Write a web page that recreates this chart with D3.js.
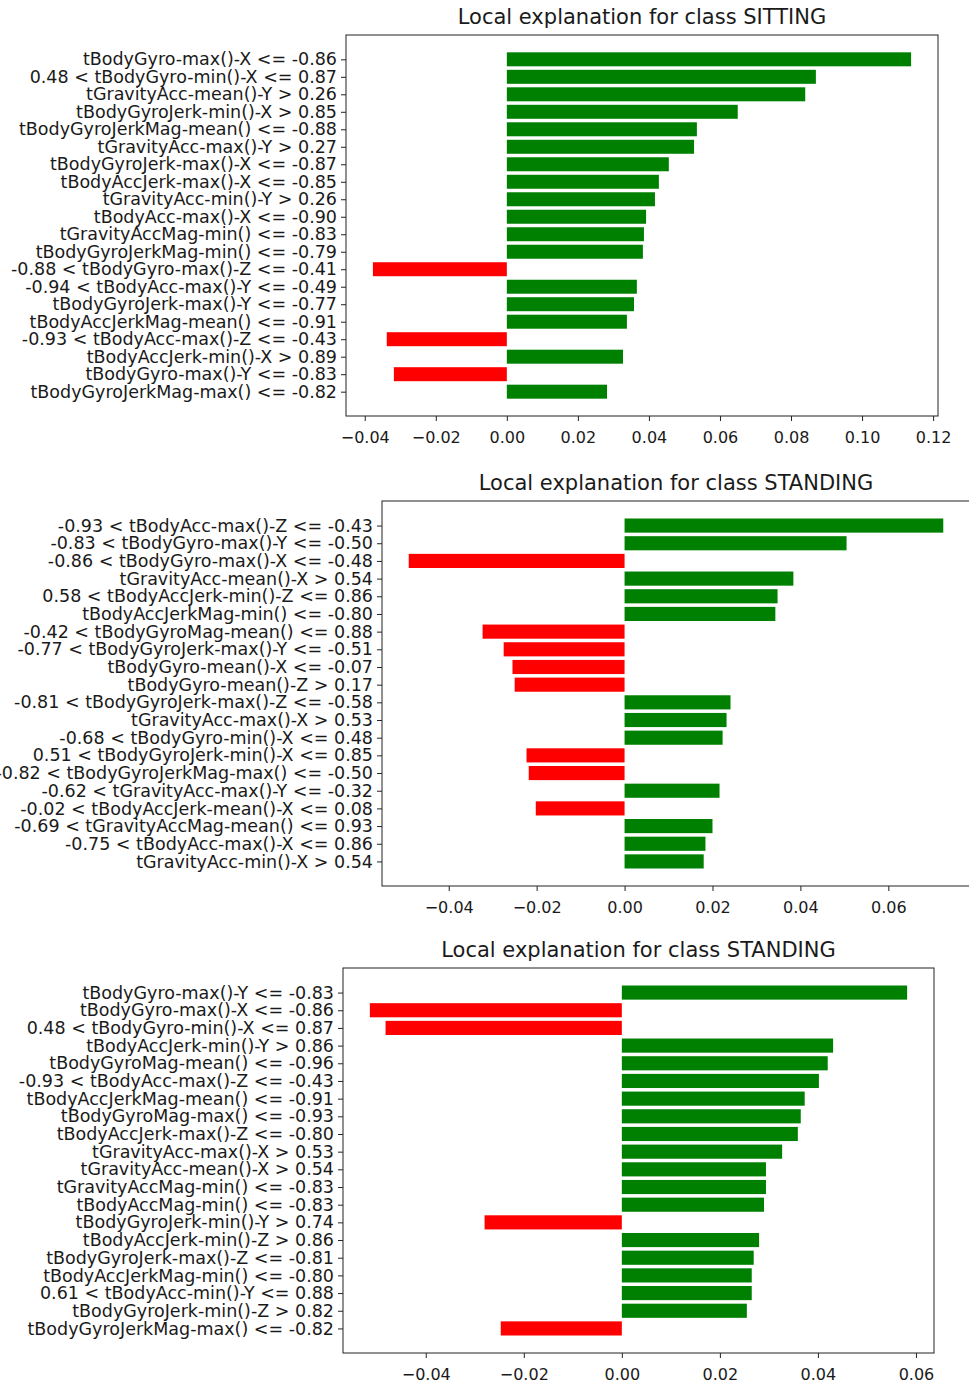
<!DOCTYPE html>
<html>
<head>
<meta charset="utf-8">
<script src="https://cdn.jsdelivr.net/npm/d3@7"></script>
<style>
  html, body { margin: 0; padding: 0; background: #fff; }
  svg text { font-family: "DejaVu Sans", sans-serif; fill: #1a1a1a; }
</style>
</head>
<body>
<svg id="chart" width="969" height="1384"></svg>
<script>
// Feature conditions and weights for each local explanation (top row first)
const sittingTitle = "Local explanation for class SITTING";
const sittingLabels = [
  "tBodyGyro-max()-X <= -0.86",
  "0.48 < tBodyGyro-min()-X <= 0.87",
  "tGravityAcc-mean()-Y > 0.26",
  "tBodyGyroJerk-min()-X > 0.85",
  "tBodyGyroJerkMag-mean() <= -0.88",
  "tGravityAcc-max()-Y > 0.27",
  "tBodyGyroJerk-max()-X <= -0.87",
  "tBodyAccJerk-max()-X <= -0.85",
  "tGravityAcc-min()-Y > 0.26",
  "tBodyAcc-max()-X <= -0.90",
  "tGravityAccMag-min() <= -0.83",
  "tBodyGyroJerkMag-min() <= -0.79",
  "-0.88 < tBodyGyro-max()-Z <= -0.41",
  "-0.94 < tBodyAcc-max()-Y <= -0.49",
  "tBodyGyroJerk-max()-Y <= -0.77",
  "tBodyAccJerkMag-mean() <= -0.91",
  "-0.93 < tBodyAcc-max()-Z <= -0.43",
  "tBodyAccJerk-min()-X > 0.89",
  "tBodyGyro-max()-Y <= -0.83",
  "tBodyGyroJerkMag-max() <= -0.82"
];
const sittingValues = [
  0.1138, 0.0870, 0.0840, 0.0650, 0.0535, 0.0527, 0.0456, 0.0428, 0.0417, 0.0392,
  0.0386, 0.0383, -0.0377, 0.0366, 0.0358, 0.0338, -0.0338, 0.0327, -0.0318, 0.0282
];
const sittingTicks = [-0.04, -0.02, 0.00, 0.02, 0.04, 0.06, 0.08, 0.10, 0.12];

const standingTitleA = "Local explanation for class STANDING";
const standingLabelsA = [
  "-0.93 < tBodyAcc-max()-Z <= -0.43",
  "-0.83 < tBodyGyro-max()-Y <= -0.50",
  "-0.86 < tBodyGyro-max()-X <= -0.48",
  "tGravityAcc-mean()-X > 0.54",
  "0.58 < tBodyAccJerk-min()-Z <= 0.86",
  "tBodyAccJerkMag-min() <= -0.80",
  "-0.42 < tBodyGyroMag-mean() <= 0.88",
  "-0.77 < tBodyGyroJerk-max()-Y <= -0.51",
  "tBodyGyro-mean()-X <= -0.07",
  "tBodyGyro-mean()-Z > 0.17",
  "-0.81 < tBodyGyroJerk-max()-Z <= -0.58",
  "tGravityAcc-max()-X > 0.53",
  "-0.68 < tBodyGyro-min()-X <= 0.48",
  "0.51 < tBodyGyroJerk-min()-X <= 0.85",
  "-0.82 < tBodyGyroJerkMag-max() <= -0.50",
  "-0.62 < tGravityAcc-max()-Y <= -0.32",
  "-0.02 < tBodyAccJerk-mean()-X <= 0.08",
  "-0.69 < tGravityAccMag-mean() <= 0.93",
  "-0.75 < tBodyAcc-max()-X <= 0.86",
  "tGravityAcc-min()-X > 0.54"
];
const standingValuesA = [
  0.0725, 0.0505, -0.0491, 0.0384, 0.0348, 0.0343, -0.0323, -0.0275, -0.0255, -0.0250,
  0.0241, 0.0232, 0.0223, -0.0223, -0.0218, 0.0216, -0.0202, 0.0200, 0.0184, 0.0180
];
const standingTicksA = [-0.04, -0.02, 0.00, 0.02, 0.04, 0.06];

const standingTitleB = "Local explanation for class STANDING";
const standingLabelsB = [
  "tBodyGyro-max()-Y <= -0.83",
  "tBodyGyro-max()-X <= -0.86",
  "0.48 < tBodyGyro-min()-X <= 0.87",
  "tBodyAccJerk-min()-Y > 0.86",
  "tBodyGyroMag-mean() <= -0.96",
  "-0.93 < tBodyAcc-max()-Z <= -0.43",
  "tBodyAccJerkMag-mean() <= -0.91",
  "tBodyGyroMag-max() <= -0.93",
  "tBodyAccJerk-max()-Z <= -0.80",
  "tGravityAcc-max()-X > 0.53",
  "tGravityAcc-mean()-X > 0.54",
  "tGravityAccMag-min() <= -0.83",
  "tBodyAccMag-min() <= -0.83",
  "tBodyGyroJerk-min()-Y > 0.74",
  "tBodyAccJerk-min()-Z > 0.86",
  "tBodyGyroJerk-max()-Z <= -0.81",
  "tBodyAccJerkMag-min() <= -0.80",
  "0.61 < tBodyAcc-min()-Y <= 0.88",
  "tBodyGyroJerk-min()-Z > 0.82",
  "tBodyGyroJerkMag-max() <= -0.82"
];
const standingValuesB = [
  0.0582, -0.0514, -0.0482, 0.0431, 0.0420, 0.0402, 0.0373, 0.0365, 0.0359, 0.0327,
  0.0294, 0.0294, 0.0290, -0.0280, 0.0280, 0.0269, 0.0265, 0.0265, 0.0255, -0.0247
];
const standingTicksB = [-0.04, -0.02, 0.00, 0.02, 0.04, 0.06];

// Frame placement of each panel on the page
const panels = [
  { title: sittingTitle,   labels: sittingLabels,   values: sittingValues,   ticks: sittingTicks,   box: { left: 346, right: 938, top: 35,  bottom: 416 } },
  { title: standingTitleA, labels: standingLabelsA, values: standingValuesA, ticks: standingTicksA, box: { left: 382, right: 970, top: 501, bottom: 886 } },
  { title: standingTitleB, labels: standingLabelsB, values: standingValuesB, ticks: standingTicksB, box: { left: 343, right: 934, top: 968, bottom: 1353 } }
];

const POS = "#008000", NEG = "#ff0000";
const tickFont = 16, labelFont = 17.5, titleSize = 21, tickLen = 5;
const fmt = d3.format(".2f");

const svg = d3.select("#chart");

panels.forEach(p => {
  const { left, right, top, bottom } = p.box;
  const n = p.values.length;

  // x limits: data extent (bars start at zero) padded by 5%
  const lo = Math.min(0, d3.min(p.values)), hi = Math.max(0, d3.max(p.values));
  const padX = (hi - lo) * 0.05;
  const x = d3.scaleLinear().domain([lo - padX, hi + padX]).range([left, right]);

  // y limits: bar slots 0..n-1 (height 0.8) padded by 5%; first row on top
  const yLo = -0.4, yHi = n - 1 + 0.4, padY = (yHi - yLo) * 0.05;
  const y = d3.scaleLinear().domain([yLo - padY, yHi + padY]).range([bottom, top]);
  const slot = i => n - 1 - i;

  const g = svg.append("g");

  g.selectAll("rect.bar")
    .data(p.values)
    .join("rect")
    .attr("class", "bar")
    .attr("x", d => x(Math.min(0, d)))
    .attr("width", d => Math.abs(x(d) - x(0)))
    .attr("y", (d, i) => y(slot(i) + 0.4))
    .attr("height", (d, i) => y(slot(i) - 0.4) - y(slot(i) + 0.4))
    .attr("fill", d => d > 0 ? POS : NEG);

  // bottom axis
  const xAxis = d3.axisBottom(x)
    .tickValues(p.ticks)
    .tickFormat(fmt)
    .tickSizeInner(tickLen)
    .tickSizeOuter(0)
    .tickPadding(11);
  const gx = g.append("g").attr("transform", `translate(0,${bottom})`).call(xAxis);
  gx.select(".domain").remove();
  gx.selectAll(".tick line").attr("stroke", "#222");
  gx.selectAll(".tick text").attr("font-size", tickFont).attr("font-family", "DejaVu Sans").attr("fill", "#1a1a1a");

  // left axis with the feature conditions
  const yAxis = d3.axisLeft(y)
    .tickValues(d3.range(n))
    .tickFormat(k => p.labels[n - 1 - k])
    .tickSizeInner(tickLen)
    .tickSizeOuter(0)
    .tickPadding(4);
  const gy = g.append("g").attr("transform", `translate(${left},0)`).call(yAxis);
  gy.select(".domain").remove();
  gy.selectAll(".tick line").attr("stroke", "#222");
  gy.selectAll(".tick text").attr("font-size", labelFont).attr("font-family", "DejaVu Sans").attr("fill", "#1a1a1a");

  // frame
  g.append("rect")
    .attr("x", left).attr("y", top)
    .attr("width", right - left).attr("height", bottom - top)
    .attr("fill", "none").attr("stroke", "#222").attr("stroke-width", 1);

  // title
  g.append("text")
    .attr("x", (left + right) / 2)
    .attr("y", top - 11)
    .attr("text-anchor", "middle")
    .attr("font-size", titleSize)
    .text(p.title);
});
</script>
</body>
</html>
